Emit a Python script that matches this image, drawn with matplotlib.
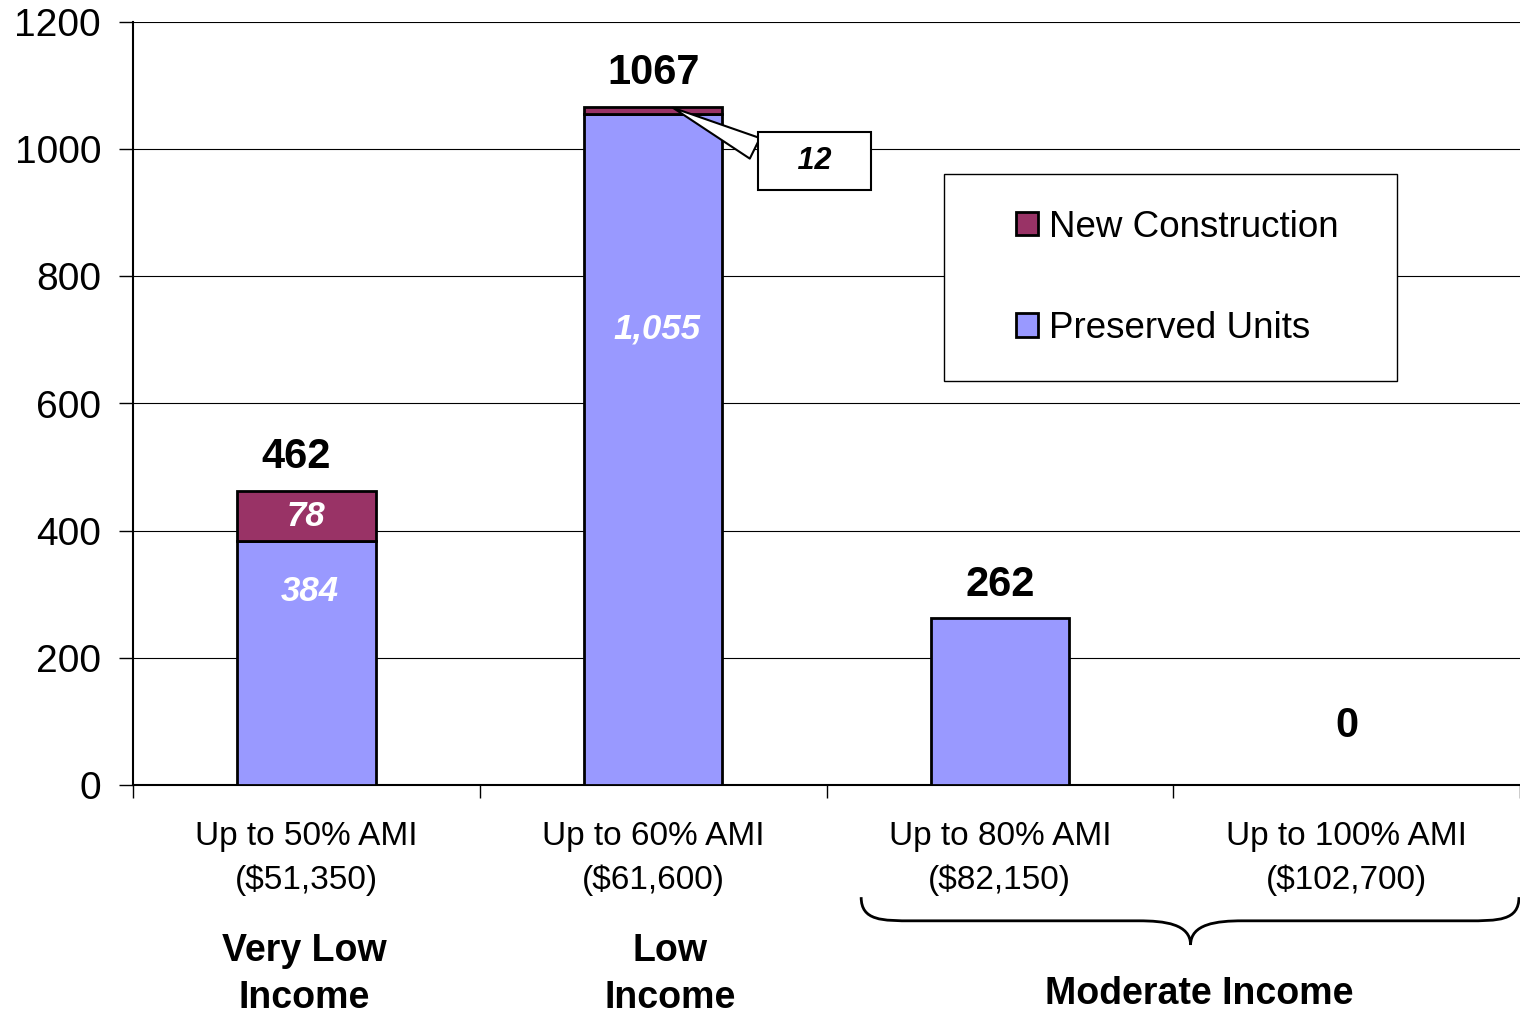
import numpy as np
import matplotlib.pyplot as plt
from matplotlib.path import Path
from matplotlib.patches import PathPatch, Rectangle
from matplotlib.transforms import blended_transform_factory

plt.rcParams['font.family'] = ['Liberation Sans', 'DejaVu Sans']

categories = ['Up to 50% AMI\n($51,350)', 'Up to 60% AMI\n($61,600)',
              'Up to 80% AMI\n($82,150)', 'Up to 100% AMI\n($102,700)']
preserved = np.array([384, 1055, 262, 0])
new_constr = np.array([78, 12, 0, 0])
totals = preserved + new_constr
groups = ['Very Low\nIncome', 'Low\nIncome', 'Moderate Income']

c_pres = '#9999FF'
c_new = '#993366'

fig = plt.figure(figsize=(15.2, 10.13), dpi=100)
ax = fig.add_axes([133/1520, 1 - 785/1013, 1 - 133/1520, (785 - 22)/1013])

x = np.arange(len(categories))
w = 0.4
b_pres = ax.bar(x, preserved, w, color=c_pres, edgecolor='black', linewidth=2, zorder=3)
b_new = ax.bar(x, new_constr, w, bottom=preserved, color=c_new, edgecolor='black',
               linewidth=2, zorder=3)
# hide zero-height segments
for i in range(len(x)):
    if preserved[i] == 0:
        b_pres[i].set_visible(False)
    if new_constr[i] == 0:
        b_new[i].set_visible(False)

ax.set_xlim(-0.5, 3.5)
ax.set_ylim(0, 1200)
ax.set_yticks(range(0, 1201, 200))
ax.yaxis.grid(True, color='black', linewidth=0.8, zorder=0)
ax.set_axisbelow(True)
ax.tick_params(axis='y', labelsize=28, length=10, width=1, pad=13)
ax.set_xticks(x)
ax.set_xticklabels(categories, fontsize=24, linespacing=1.5)
ax.tick_params(axis='x', length=0, pad=26)
ax.set_xticks(np.arange(-0.5, 3.6, 1), minor=True)
ax.tick_params(axis='x', which='minor', length=9, width=1)
for s in ['top', 'right']:
    ax.spines[s].set_visible(False)
ax.spines['left'].set_linewidth(1.5)
ax.spines['bottom'].set_linewidth(1.5)

# totals
for i, t in enumerate(totals):
    off = 10 if t > 0 else 28
    dx = -0.03 if i == 0 else 0
    ax.annotate(str(t), (x[i] + dx, t), xytext=(0, off), textcoords='offset points',
                ha='center', va='bottom', fontsize=30, fontweight='bold')

# segment labels
pres_label_y = [305, 717]
for i in range(2):
    ax.text(x[i] + 0.01, pres_label_y[i], f'{preserved[i]:,}', ha='center', va='center',
            color='white', fontsize=25, fontweight='bold', fontstyle='italic', zorder=4)
ax.text(x[0], preserved[0] + new_constr[0] / 2, str(new_constr[0]), ha='center', va='center',
        color='white', fontsize=25, fontweight='bold', fontstyle='italic', zorder=4)

# callout for the small segment
ax.annotate('   ' + str(new_constr[1]) + '   ', (x[1] + 0.05, totals[1]), xytext=(1.465, 981),
            ha='center', va='center', fontsize=22, fontweight='bold', fontstyle='italic',
            bbox=dict(boxstyle='square,pad=0.45', fc='white', ec='black', lw=1.5),
            arrowprops=dict(arrowstyle='wedge,tail_width=0.75,shrink_factor=0.5',
                            relpos=(0, 0.65), fc='white', ec='black', lw=1.5), zorder=5)

# legend
ax.add_patch(Rectangle((0.585, 0.529), 0.326, 0.272, transform=ax.transAxes,
                       fc='white', ec='black', lw=1, zorder=4))
leg = ax.legend([b_new[0], b_pres[0]], ['New Construction', 'Preserved Units'],
                loc='upper left', bbox_to_anchor=(0.6366, 0.754), frameon=False,
                fontsize=26.5, handlelength=0.6, handleheight=0.6, handletextpad=0.3,
                labelspacing=1.8, borderpad=0, borderaxespad=0)
leg.set_zorder(6)

# group labels below the axis
tr = blended_transform_factory(ax.transData, ax.transAxes)
ax.text(-0.005, -0.248, groups[0], transform=tr, ha='center', va='center',
        fontsize=27, fontweight='bold', linespacing=1.38)
ax.text(1.05, -0.248, groups[1], transform=tr, ha='center', va='center',
        fontsize=27, fontweight='bold', linespacing=1.38)
ax.text(2.575, -0.274, groups[2], transform=tr, ha='center', va='center',
        fontsize=27, fontweight='bold')

# brace over the moderate income columns
x0, x1, xm = 1.6, 3.497, 2.55
yt, ym, yp = -0.147, -0.178, -0.2097
r = 0.15
verts = [(x0, yt), (x0, ym), (x0 + 0.4 * r, ym), (x0 + r, ym),
         (xm - r, ym),
         (xm - 0.5 * r, ym), (xm, ym - 0.004), (xm, yp),
         (xm, ym - 0.004), (xm + 0.5 * r, ym), (xm + r, ym),
         (x1 - r, ym),
         (x1 - 0.4 * r, ym), (x1, ym), (x1, yt)]
codes = [Path.MOVETO, Path.CURVE4, Path.CURVE4, Path.CURVE4,
         Path.LINETO,
         Path.CURVE4, Path.CURVE4, Path.CURVE4,
         Path.CURVE4, Path.CURVE4, Path.CURVE4,
         Path.LINETO,
         Path.CURVE4, Path.CURVE4, Path.CURVE4]
ax.add_patch(PathPatch(Path(verts, codes), transform=tr, fc='none', ec='black',
                       lw=2, clip_on=False))

plt.savefig('out.png', dpi=100)
